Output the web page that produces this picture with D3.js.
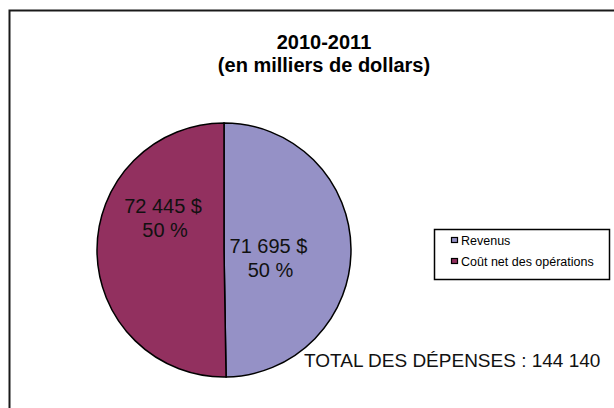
<!DOCTYPE html>
<html>
<head>
<meta charset="utf-8">
<script src="https://cdn.jsdelivr.net/npm/d3@7"></script>
<style>
  html, body { margin: 0; padding: 0; background: #fff; }
  svg { display: block; font-family: "Liberation Sans", Arial, sans-serif; }
</style>
</head>
<body>
<svg id="chart" width="614" height="408"></svg>
<script>
// Budget breakdown, thousands of dollars
const categories = ["Revenus", "Coût net des opérations"];
const values = [71695, 72445];
const colors = ["#9591C6", "#92305F"];
const titleLines = ["2010-2011", "(en milliers de dollars)"];
const totalLabel = "TOTAL DES DÉPENSES : 144 140";

const svg = d3.select("#chart");
const W = 614, H = 408;

// Frame (left and top edges of the chart area)
svg.append("path")
  .attr("d", `M9.5,${H} L9.5,10.5 L${W},10.5`)
  .attr("fill", "none")
  .attr("stroke", "#1a1a1a")
  .attr("stroke-width", 2);

// Title
const title = svg.append("text")
  .attr("text-anchor", "middle")
  .attr("font-weight", "bold")
  .attr("font-size", 20)
  .attr("fill", "#000");
titleLines.forEach((t, i) => {
  title.append("tspan").attr("x", 324).attr("y", 49 + i * 23).text(t);
});

// Pie
const cx = 224, cy = 250, r = 127;
const pie = d3.pie().sort(null).startAngle(0).endAngle(2 * Math.PI);
const arcs = pie(values);
const arc = d3.arc().innerRadius(0).outerRadius(r);

const g = svg.append("g").attr("transform", `translate(${cx},${cy})`);
g.selectAll("path.slice")
  .data(arcs)
  .join("path")
  .attr("class", "slice")
  .attr("d", arc)
  .attr("fill", (d, i) => colors[i])
  .attr("stroke", "#000")
  .attr("stroke-width", 1.5);

// Value labels: amount and share of total
const total = d3.sum(values);
const fmtNum = v => d3.format(",")(v).replace(/,/g, " ") + " $";
const fmtPct = v => Math.round(v / total * 100) + " %";
const labelPos = [
  { a: 1.632, k: 0.351 },  // Revenus
  { a: 5.257, k: 0.561 }   // Coût net
];
arcs.forEach((d, i) => {
  const p = labelPos[i];
  const x = Math.sin(p.a) * r * p.k;
  const y = -Math.cos(p.a) * r * p.k;
  const t = g.append("text")
    .attr("text-anchor", "middle")
    .attr("font-size", 20)
    .attr("fill", "#111");
  t.append("tspan").attr("x", x).attr("y", y).text(fmtNum(values[i]));
  t.append("tspan").attr("x", x + 2).attr("y", y + 24).text(fmtPct(values[i]));
});

// Legend
const lg = svg.append("g");
lg.append("rect")
  .attr("x", 434.5).attr("y", 229.5)
  .attr("width", 175).attr("height", 50)
  .attr("fill", "#fff")
  .attr("stroke", "#000")
  .attr("stroke-width", 1.5);
categories.forEach((c, i) => {
  const y = 245 + i * 21;
  lg.append("rect")
    .attr("x", 451.5).attr("y", y - 7.5)
    .attr("width", 6).attr("height", 5)
    .attr("fill", colors[i])
    .attr("stroke", "#000")
    .attr("stroke-width", 1.2);
  lg.append("text")
    .attr("x", 461).attr("y", y)
    .attr("font-size", 12.5)
    .attr("fill", "#000")
    .text(c);
});

// Total
svg.append("text")
  .attr("x", 304).attr("y", 367)
  .attr("font-size", 19)
  .attr("fill", "#111")
  .text(totalLabel);
</script>
</body>
</html>
